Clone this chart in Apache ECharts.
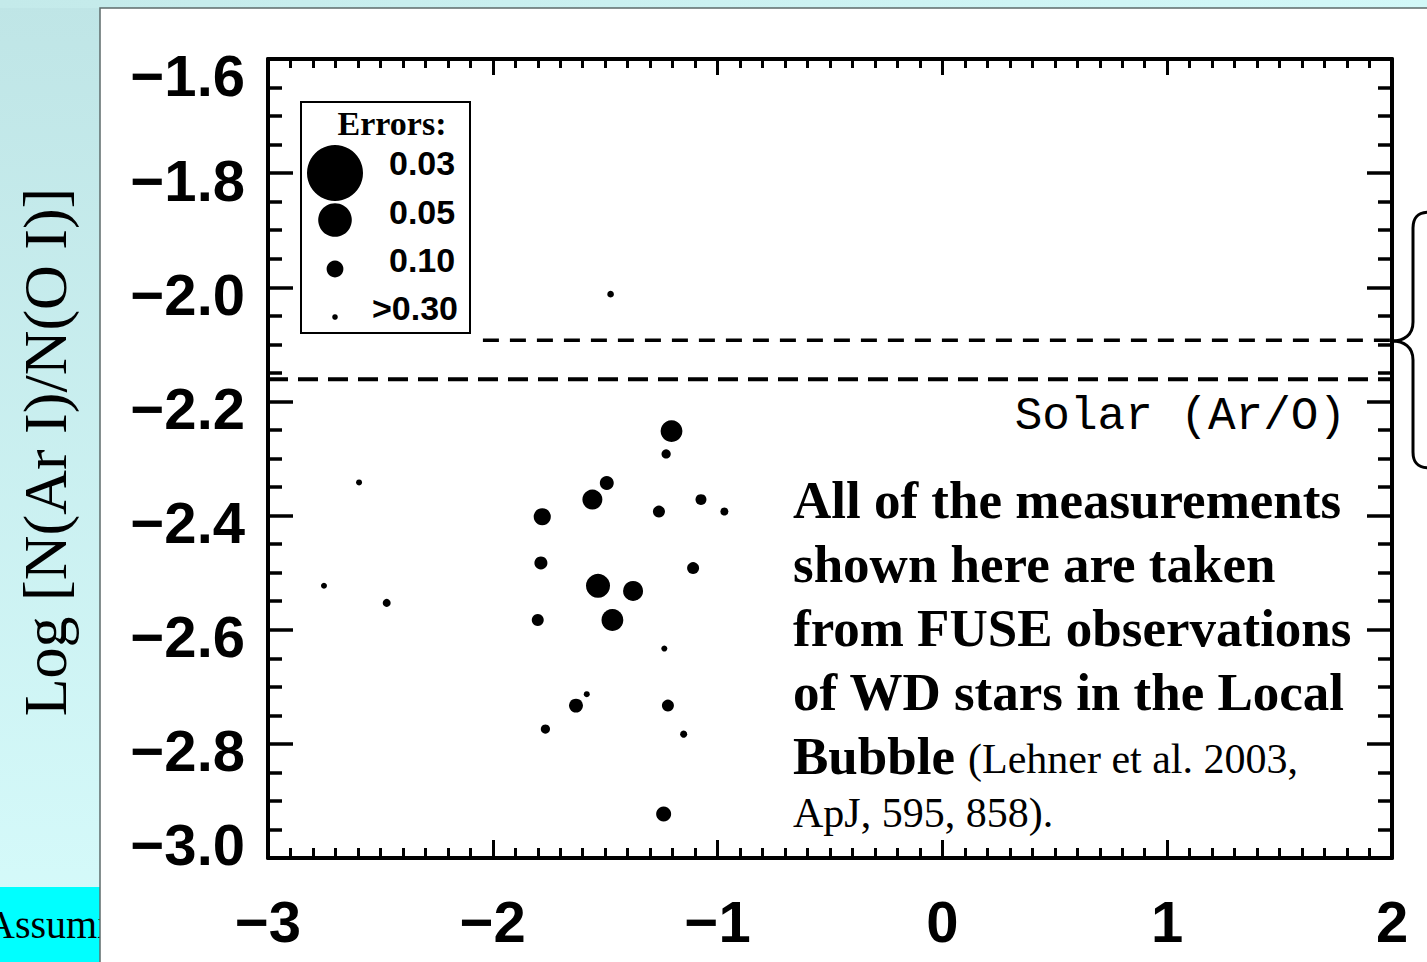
<!DOCTYPE html>
<html><head><meta charset="utf-8">
<script src="https://cdn.jsdelivr.net/npm/echarts@6/dist/echarts.min.js"></script>
<style>html,body{margin:0;padding:0;background:#fff;overflow:hidden}#c{width:1427px;height:962px}</style>
</head><body><div id="c"></div>
<script>
// ---- data ----
const starX = [-1.205,-1.229,-1.493,-2.595,-1.557,-1.074,-1.261,-0.970,-1.780,-1.786,-1.109,-2.751,-1.532,-1.376,-2.472,-1.800,-1.468,-1.237,-1.582,-1.630,-1.221,-1.766,-1.151,-1.240,-1.476];
const starY = [-2.252,-2.292,-2.343,-2.342,-2.372,-2.372,-2.393,-2.393,-2.402,-2.483,-2.492,-2.523,-2.523,-2.532,-2.553,-2.583,-2.583,-2.633,-2.713,-2.733,-2.733,-2.774,-2.783,-2.923,-2.012];
const starErr = [0.055,0.13,0.086,0.20,0.06,0.11,0.10,0.15,0.07,0.092,0.10,0.20,0.05,0.06,0.15,0.10,0.055,0.20,0.20,0.086,0.10,0.13,0.17,0.08,0.18];
const legendErr = [0.03,0.05,0.10,0.30];
const legendLabels = ['0.03','0.05','0.10','>0.30'];
const solarLineX = [-3, 2];
const solarLineY = -2.161;
const upperLineX = [-2.044, 2];
const upperLineY = -2.093;
const xMin = -3, xMax = 2, xStep = 1;
const yMin = -3.0, yMax = -1.6, yStep = 0.2;
const yTitle = 'Log [N(Ar I)/N(O I)]';
const solarLabel = 'Solar (Ar/O)';
const noteBold = ['All of the measurements','shown here are taken','from FUSE observations','of WD stars in the Local','Bubble'];
const noteRef = ['(Lehner et al. 2003,','ApJ, 595, 858).'];

const minus = s => String(s).replace('-', '\u2212');
const chart = echarts.init(document.getElementById('c'), null, {renderer:'svg', width:1427, height:962});

const axisCommon = {type:'value', splitLine:{show:false}, axisLine:{show:true, onZero:false, lineStyle:{color:'#000', width:4}}};

const legendY = [173, 220, 269, 317];
const legendTextY = [163, 212, 260, 308];
const legendTextX = [389, 389, 389, 372];
const graphics = [
  {type:'rect', z:-100, shape:{x:0,y:0,width:100,height:962}, style:{fill:new echarts.graphic.LinearGradient(0,0,0,1,[{offset:0,color:'#bfe5e6'},{offset:1,color:'#d6fbfb'}])}},
  {type:'rect', z:-100, shape:{x:0,y:0,width:1427,height:8}, style:{fill:new echarts.graphic.LinearGradient(0,0,1,0,[{offset:0,color:'#c4eaea'},{offset:1,color:'#d2f8f8'}])}},
  {type:'rect', z:-99, shape:{x:0,y:887,width:100,height:75}, style:{fill:'#00ffff'}},
  {type:'text', z:-98, x:-14, y:924, style:{text:'Assumi', font:'40px "Liberation Serif"', fill:'#000', verticalAlign:'middle'}},
  {type:'rect', z:-90, shape:{x:100,y:8,width:1340,height:970}, style:{fill:'#fff', stroke:'#5d6b6b', lineWidth:1.5}},
  {type:'text', z:5, x:45, y:452, rotation:Math.PI/2, style:{text:yTitle, font:'62px "Liberation Serif"', fill:'#000', align:'center', verticalAlign:'middle'}},
  // legend box
  {type:'rect', z:20, shape:{x:301,y:102,width:169,height:231}, style:{fill:'#fff', stroke:'#000', lineWidth:2}},
  {type:'text', z:21, x:392, y:123, style:{text:'Errors:', font:'bold 34px "Liberation Serif"', fill:'#000', align:'center', verticalAlign:'middle'}},
  // solar label
  {type:'text', z:21, x:1346, y:417, style:{text:solarLabel, font:'46px "Liberation Mono"', fill:'#000', align:'right', verticalAlign:'middle'}},
  // brace
  {type:'bezierCurve', z:21, shape:{x1:1430,y1:212,cpx1:1418,cpy1:212,cpx2:1413,cpy2:217,x2:1413,y2:228}, style:{stroke:'#000', lineWidth:3, fill:null}},
  {type:'line', z:21, shape:{x1:1413,y1:228,x2:1413,y2:322}, style:{stroke:'#000', lineWidth:3}},
  {type:'bezierCurve', z:21, shape:{x1:1413,y1:322,cpx1:1413,cpy1:335,cpx2:1404,cpy2:341,x2:1392,y2:341}, style:{stroke:'#000', lineWidth:3, fill:null}},
  {type:'bezierCurve', z:21, shape:{x1:1392,y1:341,cpx1:1404,cpy1:341,cpx2:1413,cpy2:347,x2:1413,y2:360}, style:{stroke:'#000', lineWidth:3, fill:null}},
  {type:'line', z:21, shape:{x1:1413,y1:360,x2:1413,y2:452}, style:{stroke:'#000', lineWidth:3}},
  {type:'bezierCurve', z:21, shape:{x1:1413,y1:452,cpx1:1413,cpy1:463,cpx2:1418,cpy2:468,x2:1430,y2:468}, style:{stroke:'#000', lineWidth:3, fill:null}}
];
legendErr.forEach((e,i)=>{
  graphics.push({type:'circle', z:21, shape:{cx:335, cy:legendY[i], r:1.68/e/2}, style:{fill:'#000'}});
  graphics.push({type:'text', z:21, x:legendTextX[i], y:legendTextY[i], style:{text:legendLabels[i], font:'bold 34px "Liberation Sans"', fill:'#000', verticalAlign:'middle'}});
});
const noteY = [500, 564, 628, 692, 756];
noteBold.forEach((t,i)=>{
  graphics.push({type:'text', z:21, x:793, y:noteY[i], style:{text:t, font:'bold 53px "Liberation Serif"', fill:'#000', verticalAlign:'middle'}});
});
graphics.push({type:'text', z:21, x:968, y:759, style:{text:noteRef[0], font:'42px "Liberation Serif"', fill:'#000', verticalAlign:'middle'}});
graphics.push({type:'text', z:21, x:793, y:813, style:{text:noteRef[1], font:'42px "Liberation Serif"', fill:'#000', verticalAlign:'middle'}});

const yLabelFont = {fontFamily:'Liberation Sans', fontWeight:'bold', fontSize:58, color:'#000', lineHeight:28};
const option = {
  backgroundColor:'#fff',
  animation:false,
  grid:{left:268, right:35, top:59, bottom:104, containLabel:false, outerBoundsMode:'none'},
  xAxis:[
    Object.assign({}, axisCommon, {position:'bottom', min:xMin, max:xMax, interval:xStep,
      axisTick:{show:true, inside:true, length:18, lineStyle:{color:'#000', width:3}},
      minorTick:{show:true, splitNumber:10, length:10, lineStyle:{color:'#000', width:3}},
      axisLabel:{show:true, margin:34, fontFamily:'Liberation Sans', fontWeight:'bold', fontSize:58, color:'#000', formatter:v=>minus(v)}}),
    Object.assign({}, axisCommon, {position:'top', min:xMin, max:xMax, interval:xStep,
      axisTick:{show:true, inside:true, length:16, lineStyle:{color:'#000', width:3}},
      minorTick:{show:true, splitNumber:10, length:9, lineStyle:{color:'#000', width:3}},
      axisLabel:{show:false}})
  ],
  yAxis:[
    Object.assign({}, axisCommon, {position:'left', min:yMin, max:yMax, interval:yStep,
      axisTick:{show:true, inside:true, length:25, lineStyle:{color:'#000', width:3.5}},
      minorTick:{show:true, splitNumber:4, length:14, lineStyle:{color:'#000', width:3.5}},
      axisLabel:Object.assign({show:true, margin:23,
        verticalAlignMinLabel:'bottom', verticalAlignMaxLabel:'top',
        formatter:v=>{
          const s = minus(Number(v).toFixed(1));
          if (Math.abs(v - yMax) < 1e-6) return '{t|' + s + '}';
          if (Math.abs(v - yMin) < 1e-6) return '{b|' + s + '}';
          return '{m|' + s + '}';
        },
        rich:{
          t:Object.assign({padding:[4,0,0,0]}, yLabelFont),
          b:Object.assign({padding:[0,0,0,0]}, yLabelFont),
          m:Object.assign({padding:[14,0,0,0]}, yLabelFont)
        }}, yLabelFont)}),
    Object.assign({}, axisCommon, {position:'right', min:yMin, max:yMax, interval:yStep,
      axisTick:{show:true, inside:true, length:25, lineStyle:{color:'#000', width:3.5}},
      minorTick:{show:true, splitNumber:4, length:14, lineStyle:{color:'#000', width:3.5}},
      axisLabel:{show:false}})
  ],
  graphic:{elements:graphics},
  series:[
    {type:'line', xAxisIndex:0, yAxisIndex:0, silent:true, symbol:'none', z:3,
      data:solarLineX.map(x=>[x, solarLineY]), lineStyle:{color:'#000', width:4, type:[20,10]}},
    {type:'line', xAxisIndex:0, yAxisIndex:0, silent:true, symbol:'none', z:3,
      data:upperLineX.map(x=>[x, upperLineY]), lineStyle:{color:'#000', width:3.5, type:[16,11]}},
    {type:'scatter', xAxisIndex:0, yAxisIndex:0, z:4,
      data:starX.map((x,i)=>[x, starY[i], starErr[i]]),
      symbol:'circle', symbolSize:v=>1.2/v[2], itemStyle:{color:'#000', opacity:1}}
  ]
};
chart.setOption(option);
</script></body></html>
